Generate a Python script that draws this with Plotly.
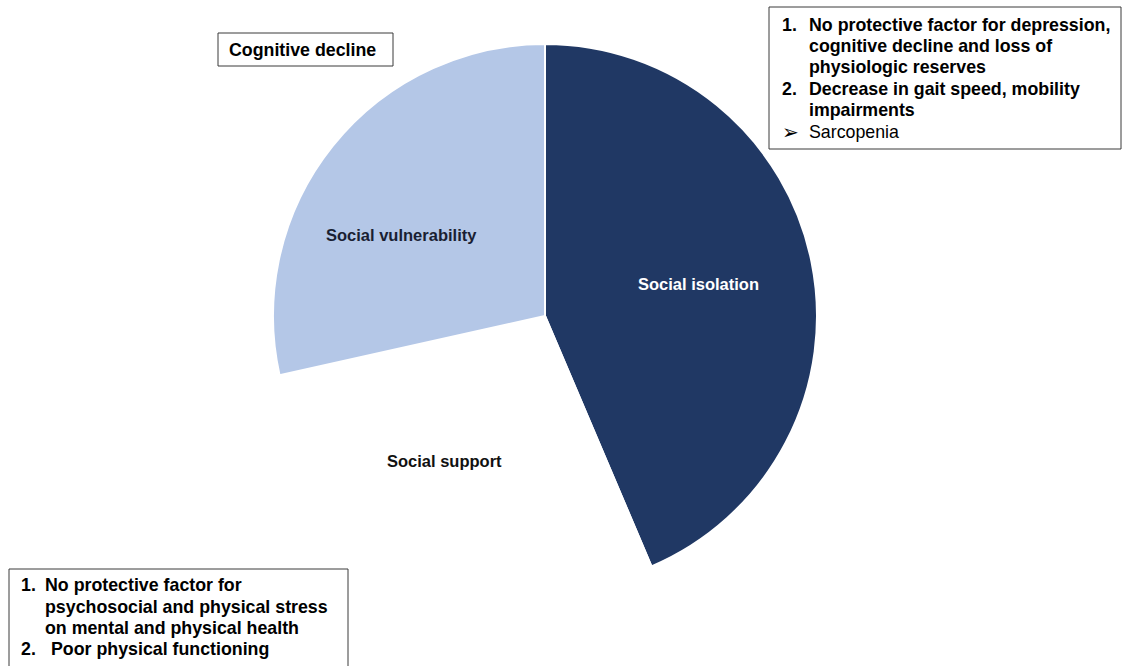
import plotly.graph_objects as go

# ---- data ----
categories = ["Social isolation", "Social support", "Social vulnerability"]
values = [43.6, 27.9, 28.5]
slice_colors = ["#203864", "#FFFFFF", "#B4C7E7"]
label_colors = ["#FFFFFF", "#111111", "#1a1f33"]

box_top_right_nums = ["<b>1.</b>", "", "", "<b>2.</b>", "", "➢"]
box_top_right_lines = [
    "<b>No protective factor for depression,</b>",
    "<b>cognitive decline and loss of</b>",
    "<b>physiologic reserves</b>",
    "<b>Decrease in gait speed, mobility</b>",
    "<b>impairments</b>",
    "Sarcopenia",
]
box_bottom_left_nums = ["<b>1.</b>", "", "", "<b>2.</b>"]
box_bottom_left_lines = [
    "<b>No protective factor for</b>",
    "<b>psychosocial and physical stress</b>",
    "<b>on mental and physical health</b>",
    "<b>Poor physical functioning</b>",
]
box_cognitive = "Cognitive decline"

W, H = 1124, 666
FONT = "Liberation Sans, Arial, sans-serif"

def px(x):
    return x / W

def py(y):
    return 1 - y / H

cx, cy, r = 545, 316, 272

fig = go.Figure(go.Pie(
    labels=categories,
    values=values,
    sort=False,
    direction="clockwise",
    rotation=0,
    marker=dict(colors=slice_colors, line=dict(color="#FFFFFF", width=2)),
    textinfo="none",
    hoverinfo="label+percent",
    showlegend=False,
    domain=dict(x=[px(cx - r), px(cx + r)], y=[py(cy + r), py(cy - r)]),
))

annotations = []
label_pos = [(698, 284), (445, 461), (401, 235)]
for cat, (lx, ly), col in zip(categories, label_pos, label_colors):
    annotations.append(dict(
        x=px(lx), y=py(ly), xref="paper", yref="paper",
        text=f"<b>{cat}</b>", showarrow=False, xanchor="center", yanchor="middle",
        font=dict(family=FONT, size=16.5, color=col),
    ))

BOX_FONT = dict(family=FONT, size=17.8, color="#000000")

# Cognitive decline box
annotations.append(dict(
    x=px(302), y=py(50), xref="paper", yref="paper",
    text=f"<b>{box_cognitive}</b>", showarrow=False, xanchor="center", yanchor="middle",
    font=BOX_FONT,
))

tr_ys = [25, 46, 67, 89, 110, 132]
for n, t, y in zip(box_top_right_nums, box_top_right_lines, tr_ys):
    if n:
        annotations.append(dict(
            x=px(780), y=py(y), xref="paper", yref="paper", text=n,
            showarrow=False, xanchor="left", yanchor="middle",
            font=dict(family=FONT, size=(20 if n == "➢" else 17.8), color="#000000"),
        ))
    annotations.append(dict(
        x=px(807), y=py(y), xref="paper", yref="paper", text=t,
        showarrow=False, xanchor="left", yanchor="middle", font=BOX_FONT,
    ))

bl_ys = [585, 607, 628, 649]
for i, (n, t, y) in enumerate(zip(box_bottom_left_nums, box_bottom_left_lines, bl_ys)):
    if n:
        annotations.append(dict(
            x=px(19), y=py(y), xref="paper", yref="paper", text=n,
            showarrow=False, xanchor="left", yanchor="middle", font=BOX_FONT,
        ))
    annotations.append(dict(
        x=px(49 if i == 3 else 43), y=py(y), xref="paper", yref="paper", text=t,
        showarrow=False, xanchor="left", yanchor="middle", font=BOX_FONT,
    ))

box_line = dict(color="#3a3a3a", width=1)
shapes = [
    dict(type="rect", xref="paper", yref="paper", x0=px(218), x1=px(393), y0=py(66), y1=py(33),
         line=box_line, fillcolor="#FFFFFF", layer="below"),
    dict(type="rect", xref="paper", yref="paper", x0=px(769), x1=px(1121), y0=py(149), y1=py(7),
         line=box_line, fillcolor="#FFFFFF", layer="below"),
    dict(type="rect", xref="paper", yref="paper", x0=px(9), x1=px(348), y0=py(700), y1=py(569),
         line=box_line, fillcolor="#FFFFFF", layer="below"),
]

fig.update_layout(
    width=W, height=H,
    margin=dict(l=0, r=0, t=0, b=0),
    paper_bgcolor="#FFFFFF", plot_bgcolor="#FFFFFF",
    annotations=annotations,
    shapes=shapes,
    font=dict(family=FONT),
)

fig.write_html(
    "out.html",
    config={"displayModeBar": False},
    post_script="document.body.style.margin='0';document.body.style.overflow='hidden';",
)
